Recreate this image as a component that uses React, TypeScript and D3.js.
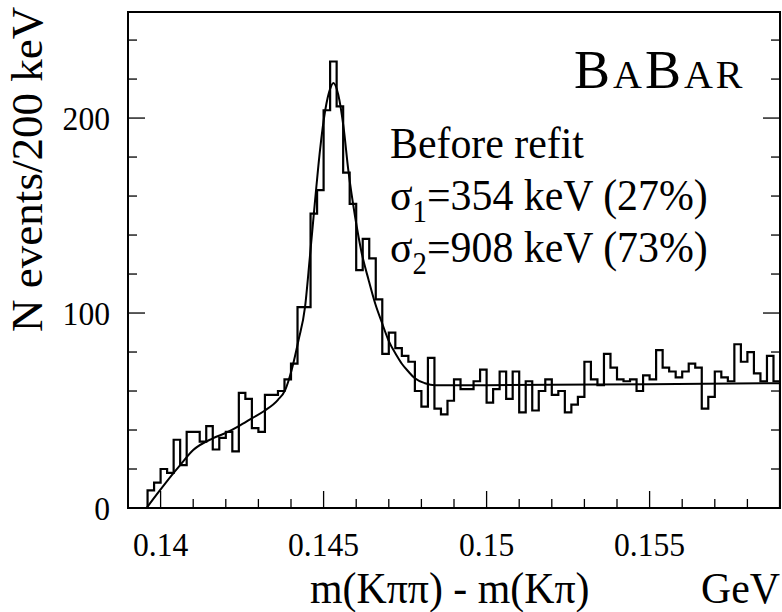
import React from 'react';
import * as d3 from 'd3';

// Canvas and frame geometry
const W = 782;
const H = 612;
const frame = { left: 128, right: 780, top: 12, bottom: 508 };

// Axis ranges (GeV on x, events per 200 keV on y)
const xDomain: [number, number] = [0.139, 0.159];
const yDomain: [number, number] = [0, 254.4];

// Histogram binning: 100 bins of 200 keV starting at 0.139 GeV
const binStart = 0.139;
const binWidth = 0.0002;
const counts = [
  0, 0, 0, 9, 13, 20, 18, 35, 22, 39,
  39, 34, 42, 30, 36, 39, 29, 59, 56, 41,
  39, 58, 58, 60, 66, 74, 103, 103, 151, 163,
  204, 229, 206, 172, 156, 122, 138, 128, 107, 79,
  90, 82, 78, 75, 60, 52, 77, 51, 48, 55,
  66, 61, 61, 65, 71, 54, 61, 70, 56, 70,
  49, 65, 50, 60, 66, 58, 60, 49, 53, 57,
  75, 66, 63, 79, 72, 66, 65, 66, 60, 68,
  66, 81, 72, 70, 67, 70, 74, 72, 51, 57,
  70, 67, 65, 84, 75, 80, 69, 65, 78, 65,
];

// Fitted curve, sampled points (GeV, events)
const fitX = [
  0.13957, 0.1400, 0.1404, 0.1406, 0.1410, 0.1416, 0.1420, 0.1424, 0.1428,
  0.1432, 0.1436, 0.14382, 0.14402, 0.14423, 0.14443, 0.14458, 0.14474,
  0.14489, 0.14505, 0.14520, 0.14530, 0.14545, 0.14561, 0.14576, 0.14597,
  0.14617, 0.14638, 0.14658, 0.14679, 0.14699, 0.14725, 0.14740, 0.14760,
  0.14780, 0.14811, 0.14842, 0.1500, 0.1550, 0.1590,
];
const fitY = [
  0, 9.5, 18, 22, 29.7, 35.7, 38.5, 42, 46,
  50, 55.5, 60.5, 70.8, 86, 103, 129, 158,
  183.6, 204, 215, 218, 212, 195.6, 173, 149,
  130.7, 117, 105, 95, 86, 78, 74, 70,
  66.5, 64, 63, 63, 63.5, 64,
];

// Axis ticks and labels
const xMajorTicks = [0.14, 0.145, 0.15, 0.155];
const xTickLabels = ['0.14', '0.145', '0.15', '0.155'];
const xMinorTicks = [
  0.141, 0.142, 0.143, 0.144, 0.146, 0.147, 0.148, 0.149,
  0.151, 0.152, 0.153, 0.154, 0.156, 0.157, 0.158,
];
const yMajorTicks = [0, 100, 200];
const yTickLabels = ['0', '100', '200'];
const yMinorTicks = [20, 40, 60, 80, 120, 140, 160, 180, 220, 240];

const FONT = '"Liberation Serif", "DejaVu Serif", serif';
// Narrow, tall Times look for all labels
const SX = 0.93;

type TProps = {
  x: number;
  y: number;
  size: number;
  anchor?: 'start' | 'middle' | 'end';
  rotate?: number;
  children: React.ReactNode;
};

function Label({ x, y, size, anchor = 'start', rotate = 0, children }: TProps) {
  const rot = rotate ? ` rotate(${rotate})` : '';
  return (
    <g transform={`translate(${x},${y})${rot} scale(${SX},1)`}>
      <text x={0} y={0} fontSize={size} textAnchor={anchor}>
        {children}
      </text>
    </g>
  );
}

export default function App() {
  const x = d3.scaleLinear().domain(xDomain).range([frame.left, frame.right]);
  const y = d3.scaleLinear().domain(yDomain).range([frame.bottom, frame.top]);

  // Step outline of the histogram
  const hp = d3.path();
  hp.moveTo(x(binStart), y(0));
  counts.forEach((c, i) => {
    const x0 = x(binStart + i * binWidth);
    const x1 = x(binStart + (i + 1) * binWidth);
    hp.lineTo(x0, y(c));
    hp.lineTo(x1, y(c));
  });
  hp.lineTo(x(binStart + counts.length * binWidth), y(0));

  const fitPts = fitX.map((v, i) => [v, fitY[i]] as [number, number]);
  const fitLine = d3
    .line<[number, number]>()
    .x((d) => x(d[0]))
    .y((d) => y(d[1]))
    .curve(d3.curveMonotoneX)(fitPts);

  const majorLen = 17;
  const minorLen = 9;

  return (
    <svg
      width={W}
      height={H}
      viewBox={`0 0 ${W} ${H}`}
      style={{ position: 'absolute', left: 0, top: 0, background: '#fff' }}
      fontFamily={FONT}
    >
      <rect x={0} y={0} width={W} height={H} fill="#fff" />
      <defs>
        <clipPath id="plotArea">
          <rect
            x={frame.left}
            y={frame.top}
            width={frame.right - frame.left}
            height={frame.bottom - frame.top}
          />
        </clipPath>
      </defs>

      <g clipPath="url(#plotArea)">
        <path d={hp.toString()} fill="none" stroke="#000" strokeWidth={2.2} strokeLinejoin="miter" />
        <path d={fitLine ?? ''} fill="none" stroke="#000" strokeWidth={2} />
      </g>

      {/* frame */}
      <rect
        x={frame.left}
        y={frame.top}
        width={frame.right - frame.left}
        height={frame.bottom - frame.top}
        fill="none"
        stroke="#000"
        strokeWidth={2}
      />

      {/* x ticks */}
      {xMajorTicks.map((t) => (
        <line key={'xM' + t} x1={x(t)} x2={x(t)} y1={frame.bottom} y2={frame.bottom - majorLen} stroke="#000" strokeWidth={1.3} />
      ))}
      {xMinorTicks.map((t) => (
        <line key={'xm' + t} x1={x(t)} x2={x(t)} y1={frame.bottom} y2={frame.bottom - minorLen} stroke="#000" strokeWidth={1.3} />
      ))}
      {xMajorTicks.map((t, i) => (
        <Label key={'xl' + t} x={x(t)} y={556} size={34} anchor="middle">
          {xTickLabels[i]}
        </Label>
      ))}

      {/* y ticks, left and right */}
      {yMajorTicks.map((t) => (
        <g key={'yM' + t}>
          <line x1={frame.left} x2={frame.left + majorLen} y1={y(t)} y2={y(t)} stroke="#000" strokeWidth={1.3} />
          <line x1={frame.right} x2={frame.right - majorLen} y1={y(t)} y2={y(t)} stroke="#000" strokeWidth={1.3} />
        </g>
      ))}
      {yMinorTicks.map((t) => (
        <g key={'ym' + t}>
          <line x1={frame.left} x2={frame.left + minorLen} y1={y(t)} y2={y(t)} stroke="#000" strokeWidth={1.3} />
          <line x1={frame.right} x2={frame.right - minorLen} y1={y(t)} y2={y(t)} stroke="#000" strokeWidth={1.3} />
        </g>
      ))}
      {yMajorTicks.map((t, i) => (
        <Label key={'yl' + t} x={110} y={y(t) + 12} size={34} anchor="end">
          {yTickLabels[i]}
        </Label>
      ))}

      {/* axis titles */}
      <g transform="translate(42,332) rotate(-90) scale(0.98,0.95)">
        <text x={0} y={0} fontSize={46} textAnchor="start">
          N events/200 keV
        </text>
      </g>
      <Label x={310} y={603} size={45}>
        m(Kππ) - m(Kπ)
      </Label>
      <Label x={780} y={603} size={45} anchor="end">
        GeV
      </Label>

      {/* experiment tag */}
      <text x={574} y={88} letterSpacing={3}>
        <tspan fontSize={54}>B</tspan>
        <tspan fontSize={40}>A</tspan>
        <tspan fontSize={54}>B</tspan>
        <tspan fontSize={40}>AR</tspan>
      </text>

      {/* fit annotation */}
      <Label x={390} y={158} size={45}>
        Before refit
      </Label>
      <Label x={390} y={210} size={45}>
        σ<tspan fontSize={31} dy={12}>1</tspan>
        <tspan dy={-12}>=354 keV (27%)</tspan>
      </Label>
      <Label x={390} y={262} size={45}>
        σ<tspan fontSize={31} dy={12}>2</tspan>
        <tspan dy={-12}>=908 keV (73%)</tspan>
      </Label>
    </svg>
  );
}
